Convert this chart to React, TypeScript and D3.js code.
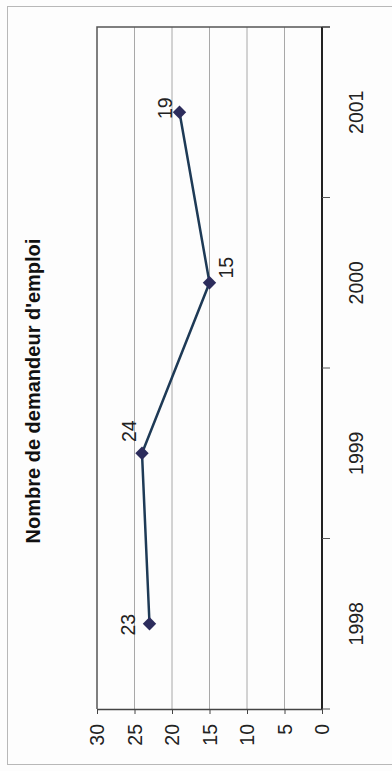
import React, { useEffect, useRef } from 'react';
import * as d3 from 'd3';

// Data read from the (rotated) scanned chart
const years = ['1998', '1999', '2000', '2001'];
const demandeurs = [23, 24, 15, 19];
const valueTicks = [0, 5, 10, 15, 20, 25, 30];
const title = "Nombre de demandeur d'emploi";

// Hand-placed data labels, in page pixels relative to the marker
const labelOffsets = [
  { dx: -22, dy: 1 },
  { dx: -13, dy: -22 },
  { dx: 16, dy: -15 },
  { dx: -15, dy: -4 },
];

const W = 392;
const H = 771;
const FONT = '"Liberation Sans", Arial, sans-serif';

const App: React.FC = () => {
  const svgRef = useRef<SVGSVGElement>(null);

  useEffect(() => {
    if (!svgRef.current) return;
    const svg = d3.select(svgRef.current);
    svg.selectAll('*').remove();

    // Plot area (chart is rotated -90deg: values run right->left, years bottom->top)
    const plot = { left: 97, right: 322, top: 27, bottom: 709 };

    const xScale = d3.scaleLinear().domain([0, 30]).range([plot.right, plot.left]);
    const yScale = d3.scaleBand<string>().domain(years).range([plot.bottom, plot.top]);

    svg.append('rect').attr('width', W).attr('height', H).attr('fill', '#fdfdfd');

    // outer frame
    svg.append('rect')
      .attr('x', 7.5).attr('y', 6.5)
      .attr('width', W + 10).attr('height', 758)
      .attr('fill', 'none').attr('stroke', '#b8b8b8').attr('stroke-width', 1);

    // title
    svg.append('text')
      .attr('transform', `translate(33,${(plot.top + plot.bottom) / 2 + 23}) rotate(-90)`)
      .attr('text-anchor', 'middle')
      .attr('dominant-baseline', 'central')
      .attr('font-family', FONT)
      .attr('font-weight', 'bold')
      .attr('font-size', 20)
      .attr('fill', '#111')
      .text(title);

    // grid lines
    svg.append('g')
      .selectAll('line')
      .data(valueTicks.filter(v => v > 0 && v < 30))
      .enter().append('line')
      .attr('x1', d => xScale(d)).attr('x2', d => xScale(d))
      .attr('y1', plot.top).attr('y2', plot.bottom)
      .attr('stroke', '#a8a8a8').attr('stroke-width', 1);

    // plot border (left + top)
    svg.append('path')
      .attr('d', `M${plot.left},${plot.bottom}V${plot.top}H${plot.right + 8}`)
      .attr('fill', 'none').attr('stroke', '#555').attr('stroke-width', 1.5);

    // value axis (bottom of page)
    const valAxis = svg.append('g')
      .attr('transform', `translate(0,${plot.bottom})`)
      .call(d3.axisBottom(xScale).tickValues(valueTicks).tickSize(5).tickSizeOuter(0).tickFormat(d3.format('d')));
    valAxis.select('.domain').attr('stroke', '#444').attr('stroke-width', 1.5);
    valAxis.selectAll('.tick line').attr('stroke', '#444');
    valAxis.selectAll('.tick text')
      .attr('transform', 'translate(0,15) rotate(-90)')
      .attr('x', 0).attr('y', 0).attr('dy', '0.35em')
      .attr('text-anchor', 'end')
      .attr('font-family', FONT).attr('font-size', 19.5).attr('fill', '#222');

    // category axis (right side of page), ticks at band edges
    const edges = years.map(y => yScale(y)! + yScale.bandwidth()).concat([plot.top]);
    svg.append('line')
      .attr('x1', plot.right).attr('x2', plot.right)
      .attr('y1', plot.top).attr('y2', plot.bottom)
      .attr('stroke', '#222').attr('stroke-width', 2);
    svg.append('g').selectAll('line')
      .data(edges).enter().append('line')
      .attr('x1', plot.right).attr('x2', plot.right + 8)
      .attr('y1', d => d).attr('y2', d => d)
      .attr('stroke', '#555').attr('stroke-width', 1);
    svg.append('g').selectAll('text')
      .data(years).enter().append('text')
      .attr('transform', d => `translate(356,${yScale(d)! + yScale.bandwidth() / 2}) rotate(-90)`)
      .attr('text-anchor', 'middle')
      .attr('dominant-baseline', 'central')
      .attr('font-family', FONT).attr('font-size', 19.5).attr('fill', '#222')
      .text(d => d);

    // line
    const pts = years.map((y, i) => [xScale(demandeurs[i]), yScale(y)! + yScale.bandwidth() / 2] as [number, number]);
    svg.append('path')
      .attr('d', d3.line()(pts))
      .attr('fill', 'none').attr('stroke', '#1e3a56').attr('stroke-width', 2.5);

    // diamond markers
    const diamond = d3.symbol(d3.symbolSquare, 90)();
    svg.append('g').selectAll('path')
      .data(pts).enter().append('path')
      .attr('d', diamond)
      .attr('transform', d => `translate(${d[0]},${d[1]}) rotate(45)`)
      .attr('fill', '#2c2c5c');

    // data labels
    svg.append('g').selectAll('text')
      .data(pts).enter().append('text')
      .attr('transform', (d, i) => `translate(${d[0] + labelOffsets[i].dx},${d[1] + labelOffsets[i].dy}) rotate(-90)`)
      .attr('text-anchor', 'middle')
      .attr('dominant-baseline', 'central')
      .attr('font-family', FONT).attr('font-size', 19.5).attr('fill', '#222')
      .text((d, i) => String(demandeurs[i]));
  }, []);

  return (
    <svg
      ref={svgRef}
      width={W}
      height={H}
      style={{ position: 'absolute', left: 0, top: 0, display: 'block' }}
    />
  );
};

export default App;
